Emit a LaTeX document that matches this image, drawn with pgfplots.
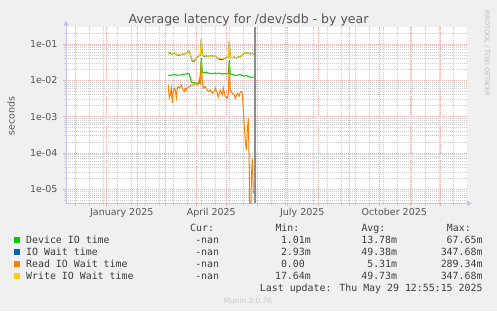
\documentclass[border=0pt]{standalone}
\usepackage{pgfplots}
\pgfplotsset{compat=1.18}
\usetikzlibrary{arrows.meta}
\usepackage{fontspec}
\setmainfont{DejaVu Sans}
\newfontfamily\monof{DejaVu Sans Mono}
\definecolor{bgc}{RGB}{240,240,240}
\definecolor{txt}{RGB}{85,85,85}
\definecolor{ltxt}{RGB}{60,60,60}
\definecolor{mgrid}{RGB}{235,172,172}
\definecolor{sgrid}{RGB}{205,205,205}
\definecolor{axc}{RGB}{195,195,245}
\definecolor{cdev}{RGB}{0,204,0}
\definecolor{cio}{RGB}{0,102,179}
\definecolor{cread}{RGB}{255,128,0}
\definecolor{cwrite}{RGB}{255,204,0}
\newcommand\lgf{\monof\fontsize{9.9}{12}\selectfont}
\begin{document}
\begin{tikzpicture}
\path[use as bounding box, fill=bgc] (0pt,0pt) rectangle (497pt,311pt);
\begin{axis}[
  at={(66pt,107.7pt)}, anchor=south west,
  scale only axis, width=401pt, height=176.6pt,
  xmin=-40.3, xmax=360.7,
  ymode=log, ymin=4.114e-6, ymax=0.2996,
  axis background/.style={fill=white},
  axis lines=left,
  axis line style={draw=axc, line width=0.8pt},
  x axis line style={-{Triangle[length=5pt,width=5pt]}, shorten >=-5pt},
  y axis line style={-{Triangle[length=5pt,width=5pt]}, shorten >=-6pt},
  xtick={-31,0,31,59,90,120,151,181,212,243,273,304,334},
  xticklabel={\relax},
  minor xtick={-17,-3,11,25,39,53,67,81,95,109,123,137,165,179,193,207,221,235,249,263,277,291,305,319,333,347},
  extra x ticks={15.5,105,196,288},
  extra x tick labels={January 2025,April 2025,July 2025,October 2025},
  extra x tick style={grid=none, major tick length=0pt},
  ytick={1e-5,1e-4,1e-3,1e-2,1e-1},
  yticklabels={1e-05,1e-04,1e-03,1e-02,1e-01},
  minor ytick={5e-6,6e-6,7e-6,8e-6,9e-6,2e-5,3e-5,4e-5,5e-5,6e-5,7e-5,8e-5,9e-5,2e-4,3e-4,4e-4,5e-4,6e-4,7e-4,8e-4,9e-4,2e-3,3e-3,4e-3,5e-3,6e-3,7e-3,8e-3,9e-3,2e-2,3e-2,4e-2,5e-2,6e-2,7e-2,8e-2,9e-2,2e-1},
  grid=both,
  major grid style={draw=mgrid, dash pattern=on 1pt off 1pt, line width=0.6pt},
  minor grid style={draw=sgrid, dash pattern=on 1pt off 1pt, line width=0.6pt},
  tick align=outside,
  major tick length=3pt, minor tick length=2pt,
  major tick style={draw=mgrid, line width=0.6pt},
  minor tick style={draw=sgrid, line width=0.6pt},
  ticklabel style={font=\fontsize{9.5}{11}\selectfont, text=txt},
  xticklabel style={anchor=base, inner sep=0pt, yshift=-12pt},
  yticklabel style={anchor=east, inner sep=0pt, xshift=-5.3pt},
]
% Device IO time
\addplot[cdev, line width=1pt] coordinates {
(62,0.0140)(64,0.0136)(66,0.0140)(68,0.0145)(70,0.0140)(72,0.0140)(74,0.0140)
(76,0.0145)(78,0.0149)(80,0.0149)(82,0.0154)(83,0.0149)(84,0.0116)(85,0.0090)
(87,0.0086)(89,0.0085)(91,0.0084)(93,0.0089)(94,0.0140)(95,0.0411)(96,0.0169)
(98,0.0159)(100,0.0169)(102,0.0159)(104,0.0154)(106,0.0154)(108,0.0159)(110,0.0154)
(112,0.0159)(114,0.0154)(116,0.0149)(118,0.0154)(120,0.0149)(122,0.0154)(123,0.0362)
(124,0.0149)(126,0.0145)(128,0.0140)(130,0.0136)(132,0.0140)(134,0.0145)(136,0.0136)
(138,0.0131)(140,0.0136)(142,0.0127)(144,0.0123)(146,0.0123)(148,0.0123)};
% IO Wait time
\addplot[cio, line width=1pt] coordinates {
(62,0.058)(64,0.055)(66,0.053)(68,0.056)(70,0.052)(72,0.049)(74,0.050)
(76,0.052)(78,0.053)(80,0.056)(82,0.063)(83,0.065)(84,0.052)(85,0.040)
(86,0.034)(88,0.034)(90,0.040)(92,0.046)(94,0.049)(95,0.137)(96,0.049)
(98,0.046)(100,0.047)(102,0.045)(104,0.047)(106,0.047)(108,0.047)(110,0.044)
(112,0.040)(114,0.037)(116,0.037)(118,0.040)(120,0.041)(122,0.044)(123,0.120)
(124,0.044)(126,0.042)(128,0.044)(130,0.041)(132,0.044)(134,0.044)(136,0.050)
(138,0.056)(140,0.057)(142,0.057)(144,0.053)(146,0.057)(148,0.050)};
% Read IO Wait time
\addplot[cread, line width=1pt] coordinates {
(62,0.0074)(63,0.0033)(64,0.0039)(65,0.0061)(66,0.0024)(67,0.0050)(68,0.0061)
(69,0.0055)(70,0.0033)(71,0.0061)(72,0.0067)(73,0.0061)(74,0.0067)(75,0.0074)
(76,0.0061)(77,0.0054)(78,0.0049)(79,0.0061)(80,0.0054)(81,0.0061)(83,0.0067)
(85,0.0074)(87,0.0074)(89,0.0084)(91,0.0074)(92,0.0084)(94,0.0080)(95,0.0362)
(96,0.0100)(97,0.0061)(99,0.0067)(101,0.0054)(102,0.0049)(104,0.0054)(106,0.0044)
(108,0.0049)(109,0.0061)(111,0.0044)(112,0.0035)(114,0.0054)(116,0.0040)(117,0.0061)
(119,0.0035)(121,0.0032)(122,0.0044)(123,0.0294)(124,0.0054)(126,0.0044)(128,0.0040)
(129,0.0032)(131,0.0044)(133,0.0037)(134,0.0049)(135,0.0049)(136,0.0044)
(137,0.0015)(138,0.00055)(139,0.00022)(140,0.00012)(141,0.0004)(142,0.0009)
(143,0.00004)(144,1e-9)(145,0.00002)(146,0.00007)(147,0.000008)};
% Write IO Wait time
\addplot[cwrite, line width=1pt] coordinates {
(62,0.060)(64,0.057)(66,0.053)(68,0.057)(70,0.053)(72,0.050)(74,0.050)
(76,0.053)(78,0.053)(80,0.057)(82,0.064)(83,0.066)(84,0.053)(85,0.041)
(86,0.036)(88,0.036)(90,0.041)(92,0.047)(94,0.050)(95,0.137)(96,0.050)
(98,0.047)(100,0.047)(102,0.045)(104,0.047)(106,0.047)(108,0.047)(110,0.044)
(112,0.041)(114,0.041)(116,0.039)(118,0.041)(120,0.041)(122,0.044)(123,0.120)
(124,0.044)(126,0.042)(128,0.044)(130,0.041)(132,0.044)(134,0.044)(136,0.050)
(138,0.057)(140,0.057)(142,0.057)(144,0.053)(146,0.057)(148,0.050)};
% vertical rule
\addplot[color={rgb,255:red,140;green,140;blue,140}, line width=1.5pt] coordinates {(148.5,4.114e-6)(148.5,0.2996)};
\end{axis}
% title and labels
\node[anchor=base, inner sep=0, text=txt, font=\fontsize{12.5}{14}\selectfont] at (248.5pt,287.5pt) {Average latency for /dev/sdb - by year};
\node[rotate=90, inner sep=0, text=txt, font=\fontsize{9.5}{11}\selectfont] at (11pt,195pt) {seconds};
\node[rotate=-90, inner sep=0, text={rgb,255:red,190;green,190;blue,190}, font=\fontsize{6.6}{8}\selectfont] at (487pt,257.5pt) {RRDTOOL / TOBI OETIKER};
% legend
\node[anchor=base west, inner sep=0, text=ltxt] at (190pt,79.5pt) {\lgf Cur:};
\node[anchor=base west, inner sep=0, text=ltxt] at (275.3pt,79.5pt) {\lgf Min:};
\node[anchor=base west, inner sep=0, text=ltxt] at (361.3pt,79.5pt) {\lgf Avg:};
\node[anchor=base west, inner sep=0, text=ltxt] at (446.7pt,79.5pt) {\lgf Max:};
\fill[cdev] (14pt,68.5pt) rectangle (20pt,74.3pt);
\fill[cio] (14pt,56.5pt) rectangle (20pt,62.3pt);
\fill[cread] (14pt,44.5pt) rectangle (20pt,50.3pt);
\fill[cwrite] (14pt,32.5pt) rectangle (20pt,38.3pt);
\node[anchor=base west, inner sep=0, text=ltxt] at (26pt,67.5pt) {\lgf Device IO time};
\node[anchor=base west, inner sep=0, text=ltxt] at (26pt,55.5pt) {\lgf IO Wait time};
\node[anchor=base west, inner sep=0, text=ltxt] at (26pt,43.5pt) {\lgf Read IO Wait time};
\node[anchor=base west, inner sep=0, text=ltxt] at (26pt,31.5pt) {\lgf Write IO Wait time};
\foreach \yy in {67.5,55.5,43.5,31.5} {
  \node[anchor=base east, inner sep=0, text=ltxt] at (219.3pt,\yy pt) {\lgf -nan};
}
\node[anchor=base east, inner sep=0, text=ltxt] at (311pt,67.5pt) {\lgf 1.01m};
\node[anchor=base east, inner sep=0, text=ltxt] at (311pt,55.5pt) {\lgf 2.93m};
\node[anchor=base east, inner sep=0, text=ltxt] at (311pt,43.5pt) {\lgf 0.00\phantom{m}};
\node[anchor=base east, inner sep=0, text=ltxt] at (311pt,31.5pt) {\lgf 17.64m};
\node[anchor=base east, inner sep=0, text=ltxt] at (397.3pt,67.5pt) {\lgf 13.78m};
\node[anchor=base east, inner sep=0, text=ltxt] at (397.3pt,55.5pt) {\lgf 49.38m};
\node[anchor=base east, inner sep=0, text=ltxt] at (397.3pt,43.5pt) {\lgf 5.31m};
\node[anchor=base east, inner sep=0, text=ltxt] at (397.3pt,31.5pt) {\lgf 49.73m};
\node[anchor=base east, inner sep=0, text=ltxt] at (482.7pt,67.5pt) {\lgf 67.65m};
\node[anchor=base east, inner sep=0, text=ltxt] at (482.7pt,55.5pt) {\lgf 347.68m};
\node[anchor=base east, inner sep=0, text=ltxt] at (482.7pt,43.5pt) {\lgf 289.34m};
\node[anchor=base east, inner sep=0, text=ltxt] at (482.7pt,31.5pt) {\lgf 347.68m};
\node[anchor=base east, inner sep=0, text=ltxt] at (482.7pt,19.5pt) {\lgf Last update: Thu May 29 12:55:15 2025};
\node[anchor=base, inner sep=0, text={rgb,255:red,200;green,200;blue,200}, font=\fontsize{7.4}{9}\selectfont] at (248pt,8pt) {Munin 2.0.76};
\end{tikzpicture}
\end{document}
